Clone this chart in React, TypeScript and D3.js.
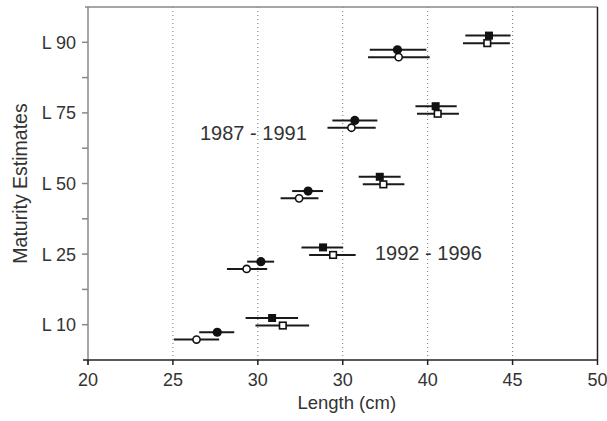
import React from "react";
import * as d3 from "d3";

const categories = ["L 10", "L 25", "L 50", "L 75", "L 90"];
const xTickValues = [20, 25, 30, 35, 40, 45, 50];
const xTickLabels = ["20", "25", "30", "30", "40", "45", "50"];
const gridValues = [25, 30, 35, 40, 45];
const yMinorTicks = [0.5, 1.5, 2.5, 3.5];

// 1987 - 1991 (circles)
const filledCircleEst = [27.61, 30.18, 32.96, 35.71, 38.22];
const filledCircleLo = [26.55, 29.37, 32.02, 34.39, 36.59];
const filledCircleHi = [28.61, 30.96, 33.84, 37.04, 39.92];
const openCircleEst = [26.39, 29.34, 32.43, 35.51, 38.29];
const openCircleLo = [25.06, 28.18, 31.34, 34.1, 36.49];
const openCircleHi = [27.72, 30.55, 33.57, 36.94, 40.12];

// 1992 - 1996 (squares)
const filledSquareEst = [30.84, 33.84, 37.18, 40.47, 43.61];
const filledSquareLo = [29.28, 32.57, 35.94, 39.28, 42.22];
const filledSquareHi = [32.37, 35.02, 38.41, 41.71, 44.88];
const openSquareEst = [31.47, 34.43, 37.39, 40.59, 43.51];
const openSquareLo = [29.86, 33.02, 36.18, 39.37, 42.08];
const openSquareHi = [33.02, 35.76, 38.63, 41.84, 44.84];

const annotations = ["1987 - 1991", "1992 - 1996"];

const W = 607;
const H = 421;
const left = 88;
const right = 597.5;
const top = 7;
const bottom = 360;

const FONT = "'Liberation Sans', Arial, Helvetica, sans-serif";
const TEXT = "#333";

export default function App() {
  const x = d3.scaleLinear().domain([20, 50]).range([left, right]);
  const y = d3.scaleLinear().domain([-0.5, 4.5]).range([bottom, top]);

  const series = [
    { est: filledSquareEst, lo: filledSquareLo, hi: filledSquareHi, off: 0.095, shape: "square", filled: true },
    { est: openSquareEst, lo: openSquareLo, hi: openSquareHi, off: -0.012, shape: "square", filled: false },
    { est: filledCircleEst, lo: filledCircleLo, hi: filledCircleHi, off: -0.107, shape: "circle", filled: true },
    { est: openCircleEst, lo: openCircleLo, hi: openCircleHi, off: -0.21, shape: "circle", filled: false },
  ];

  return (
    <svg
      width={W}
      height={H}
      style={{ position: "absolute", left: 0, top: 0, background: "#fff" }}
      fontFamily={FONT}
    >
      {/* grid */}
      {gridValues.map((v) => (
        <line
          key={"g" + v}
          x1={x(v)}
          x2={x(v)}
          y1={top}
          y2={bottom}
          stroke="#777"
          strokeWidth={1}
          strokeDasharray="1,3"
        />
      ))}

      {/* frame */}
      <line x1={left - 3} x2={right} y1={top} y2={top} stroke="#888" strokeWidth={1.5} />
      <line x1={right} x2={right} y1={top} y2={bottom} stroke="#222" strokeWidth={1.5} />
      <line x1={left} x2={left} y1={top} y2={bottom + 5} stroke="#888" strokeWidth={1.5} />
      <line x1={left - 5} x2={right} y1={bottom} y2={bottom} stroke="#222" strokeWidth={1.5} />

      {/* y ticks */}
      {categories.map((c, i) => (
        <g key={c}>
          <line x1={left - 6} x2={left} y1={y(i)} y2={y(i)} stroke="#888" strokeWidth={1.5} />
          <text
            x={left - 12}
            y={y(i)}
            dy="0.36em"
            textAnchor="end"
            fontSize={18}
            fill={TEXT}
          >
            {c}
          </text>
        </g>
      ))}
      {yMinorTicks.map((v) => (
        <line key={"m" + v} x1={left - 6} x2={left} y1={y(v)} y2={y(v)} stroke="#888" strokeWidth={1.5} />
      ))}

      {/* x ticks */}
      {xTickValues.map((v, i) => (
        <g key={"x" + v}>
          <line x1={x(v)} x2={x(v)} y1={bottom} y2={bottom + 5} stroke="#222" strokeWidth={1.5} />
          <text x={x(v)} y={bottom + 26} textAnchor="middle" fontSize={18} fill={TEXT}>
            {xTickLabels[i]}
          </text>
        </g>
      ))}

      {/* axis titles */}
      <text x={(left + right) / 2 + 4} y={409} textAnchor="middle" fontSize={18.5} fill={TEXT}>
        Length (cm)
      </text>
      <text
        transform={`translate(27,${(top + bottom) / 2}) rotate(-90)`}
        textAnchor="middle"
        fontSize={19.5}
        fill={TEXT}
      >
        Maturity Estimates
      </text>

      {/* error bars */}
      {series.map((s, si) =>
        s.est.map((_, i) => (
          <line
            key={"e" + si + "-" + i}
            x1={x(s.lo[i])}
            x2={x(s.hi[i])}
            y1={y(i + s.off)}
            y2={y(i + s.off)}
            stroke="#1a1a1a"
            strokeWidth={2}
          />
        ))
      )}

      {/* markers */}
      {series.map((s, si) =>
        s.est.map((v, i) => {
          const cx = x(v);
          const cy = y(i + s.off);
          if (s.shape === "circle") {
            return s.filled ? (
              <circle key={"p" + si + i} cx={cx} cy={cy} r={4.6} fill="#111" />
            ) : (
              <circle key={"p" + si + i} cx={cx} cy={cy} r={3.6} fill="#fff" stroke="#111" strokeWidth={1.6} />
            );
          }
          return s.filled ? (
            <rect key={"p" + si + i} x={cx - 4} y={cy - 4} width={8} height={8} fill="#111" />
          ) : (
            <rect
              key={"p" + si + i}
              x={cx - 3.3}
              y={cy - 3.3}
              width={6.6}
              height={6.6}
              fill="#fff"
              stroke="#111"
              strokeWidth={1.6}
            />
          );
        })
      )}

      {/* annotations */}
      <text x={200} y={140} fontSize={20} fill={TEXT}>
        {annotations[0]}
      </text>
      <text x={375} y={260} fontSize={20} fill={TEXT}>
        {annotations[1]}
      </text>
    </svg>
  );
}
